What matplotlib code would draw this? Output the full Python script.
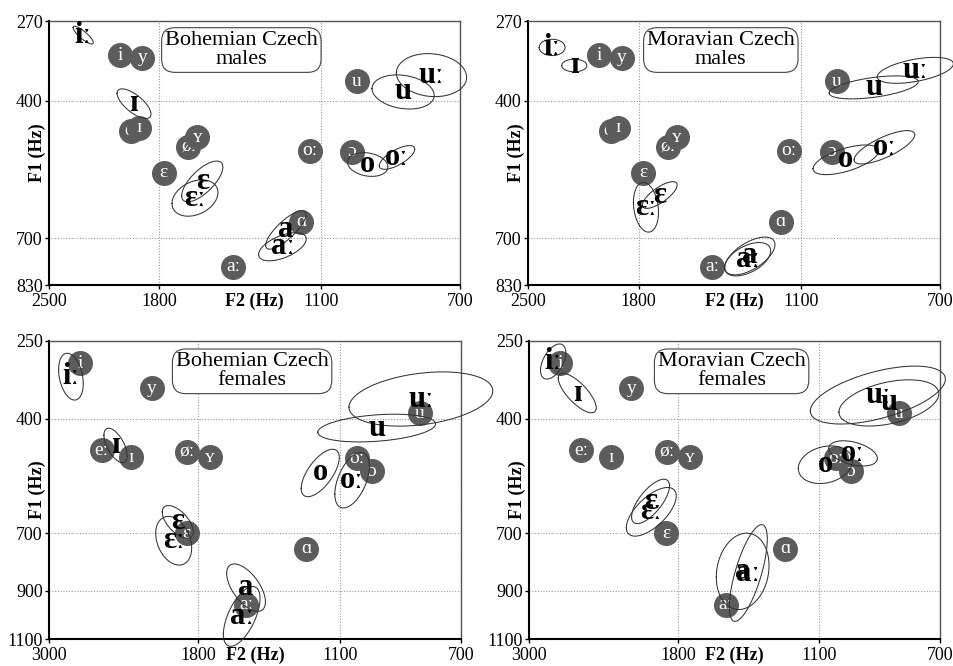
import numpy as np
import matplotlib.pyplot as plt

plt.rcParams['font.family'] = ['Liberation Serif', 'DejaVu Serif']


# ERB-rate scale (Moore & Glasberg 1983), both axes are drawn in these units
def erb(f):
    f = np.asarray(f, dtype=float) / 1000.0
    return 11.17 * np.log((f + 0.312) / (f + 14.675)) + 43.0


# reference vowels (grey circles)
ref_vowels = ['i', 'y', 'eː', 'ɪ', 'øː', 'ʏ', 'ɛ', 'aː', 'ɑ', 'oː', 'ɔ', 'u']
ref_male_f2 = [2024, 1893, 1956, 1912, 1650, 1606, 1776, 1443, 1171, 1141, 999, 983]
ref_male_f1 = [322, 326, 456, 450, 488, 469, 543, 777, 657, 496, 498, 365]
ref_female_f2 = [2697, 2112, 2505, 2266, 1870, 1730, 1874, 1529, 1241, 1035, 980, 821]
ref_female_f1 = [289, 336, 471, 488, 475, 489, 700, 955, 750, 491, 524, 388]

# Czech vowels: means (Hz), spread (ERB) and F1/F2 correlation
czech_vowels = ['iː', 'ɪ', 'ɛ', 'ɛː', 'a', 'aː', 'o', 'oː', 'u', 'uː']

bm_f2 = [2258, 1941, 1583, 1618, 1228, 1241, 950, 864, 847, 771]
bm_f1 = [291, 405, 562, 600, 678, 722, 525, 510, 384, 355]
bm_sd2 = [0.25, 0.42, 0.51, 0.57, 0.50, 0.59, 0.50, 0.44, 0.77, 0.87]
bm_sd1 = [0.24, 0.40, 0.55, 0.49, 0.52, 0.38, 0.32, 0.32, 0.46, 0.58]
bm_r = [-0.85, -0.7, 0.7, 0.3, 0.8, 0.55, -0.2, 0.7, -0.2, -0.1]

mm_f2 = [2327, 2179, 1690, 1761, 1288, 1297, 955, 843, 873, 761]
mm_f1 = [310, 339, 593, 622, 747, 756, 515, 489, 376, 347]
mm_sd2 = [0.32, 0.31, 0.43, 0.31, 0.62, 0.57, 0.81, 0.75, 1.10, 0.94]
mm_sd1 = [0.22, 0.17, 0.36, 0.67, 0.51, 0.45, 0.40, 0.45, 0.31, 0.35]
mm_r = [0.0, 0.0, 0.75, -0.2, 0.6, 0.5, 0.6, 0.75, 0.5, 0.5]

bf_f2 = [2782, 2388, 1932, 1959, 1529, 1552, 1180, 1053, 963, 817]
bf_f1 = [314, 460, 665, 724, 888, 1002, 528, 547, 420, 358]
bf_sd2 = [0.35, 0.33, 0.44, 0.51, 0.55, 0.52, 0.54, 0.49, 1.67, 2.04]
bf_sd1 = [0.76, 0.56, 0.53, 0.79, 0.77, 0.97, 0.77, 0.90, 0.45, 0.88]
bf_r = [-0.3, -0.6, -0.6, -0.3, -0.6, 0.6, 0.65, 0.5, 0.3, 0.3]

mf_f2 = [2760, 2541, 1978, 1973, 1441, 1413, 1076, 973, 852, 888]
mf_f1 = [286, 346, 605, 635, 828, 834, 507, 479, 366, 350]
mf_sd2 = [0.36, 0.54, 0.54, 0.71, 0.75, 0.54, 0.77, 0.69, 1.42, 1.92]
mf_sd1 = [0.57, 0.64, 0.72, 0.79, 1.24, 1.57, 0.61, 0.41, 0.75, 0.94]
mf_r = [0.5, -0.75, 0.7, 0.65, 0.15, 0.7, 0.2, -0.4, 0.4, 0.55]

male_xticks = [2500, 1800, 1100, 700]
male_yticks = [270, 400, 700, 830]
female_xticks = [3000, 1800, 1100, 700]
female_yticks = [250, 400, 700, 900, 1100]

panels = [
    ('Bohemian Czech\nmales', bm_f2, bm_f1, bm_sd2, bm_sd1, bm_r,
     ref_male_f2, ref_male_f1, male_xticks, male_yticks, [49, 21, 411, 264], 0.468),
    ('Moravian Czech\nmales', mm_f2, mm_f1, mm_sd2, mm_sd1, mm_r,
     ref_male_f2, ref_male_f1, male_xticks, male_yticks, [528, 21, 412, 264], 0.468),
    ('Bohemian Czech\nfemales', bf_f2, bf_f1, bf_sd2, bf_sd1, bf_r,
     ref_female_f2, ref_female_f1, female_xticks, female_yticks, [49, 341, 412, 298], 0.493),
    ('Moravian Czech\nfemales', mf_f2, mf_f1, mf_sd2, mf_sd1, mf_r,
     ref_female_f2, ref_female_f1, female_xticks, female_yticks, [529, 341, 411, 298], 0.493),
]

W, H = 954, 666
fig = plt.figure(figsize=(W / 100, H / 100), dpi=100)
grey = '#5c5c5c'
t = np.linspace(0, 2 * np.pi, 300)

for title, f2, f1, sd2, sd1, rr, rf2, rf1, xt, yt, box, tx in panels:
    px, py, pw, ph = box
    ax = fig.add_axes([px / W, 1 - (py + ph) / H, pw / W, ph / H])

    ax.set_xlim(erb(xt[0]), erb(xt[-1]))
    ax.set_ylim(erb(yt[-1]), erb(yt[0]))
    ax.set_xticks(erb(xt))
    ax.set_xticklabels([str(v) for v in xt])
    ax.set_yticks(erb(yt))
    ax.set_yticklabels([str(v) for v in yt])
    ax.tick_params(labelsize=13, length=3, width=1, direction='out')
    ax.tick_params(axis='y', pad=1.5)
    ax.tick_params(axis='x', pad=2.5)
    ax.grid(True, ls=(0, (1, 1.5)), color='#999999', lw=0.8)
    ax.set_axisbelow(True)
    for s in ['left', 'bottom']:
        ax.spines[s].set_linewidth(1.5)
        ax.spines[s].set_color('black')
    for s in ['top', 'right']:
        ax.spines[s].set_linewidth(1.0)
        ax.spines[s].set_color('#555555')

    # grey reference circles with white labels
    for i, v in enumerate(ref_vowels):
        x, y = erb(rf2[i]), erb(rf1[i])
        ax.plot(x, y, 'o', ms=17, color=grey, mec=grey, zorder=3 + i * 0.01, clip_on=False)
        ax.text(x, y, v, color='white', fontsize=14, ha='center', va='center',
                zorder=3.005 + i * 0.01)

    # ellipses of the Czech vowels
    for i, v in enumerate(czech_vowels):
        mx, my = erb(f2[i]), erb(f1[i])
        ex = mx + sd2[i] * np.cos(t)
        ey = my + sd1[i] * (rr[i] * np.cos(t) + np.sqrt(1 - rr[i] ** 2) * np.sin(t))
        ax.plot(ex, ey, color='#333333', lw=0.75, zorder=4, clip_on=False)
    for i, v in enumerate(czech_vowels):
        ax.text(erb(f2[i]), erb(f1[i]), v, fontsize=22, fontweight='bold',
                ha='center', va='center', zorder=5)

    ax.text(tx, 0.962, title, transform=ax.transAxes, ha='center', va='top',
            fontsize=16, linespacing=1.0, zorder=6,
            bbox=dict(boxstyle='round,pad=0.15,rounding_size=0.6', fc='white',
                      ec='#444444', lw=0.8))

    ax.annotate('F2 (Hz)', xy=(0.5, 0), xycoords='axes fraction', xytext=(0, -5.5),
                textcoords='offset points', ha='center', va='top',
                fontsize=13, fontweight='bold')
    ax.text(-0.028, 0.5, 'F1 (Hz)', transform=ax.transAxes, rotation=90,
            ha='center', va='center', fontsize=13, fontweight='bold')

fig.savefig('out.png', dpi=100)
